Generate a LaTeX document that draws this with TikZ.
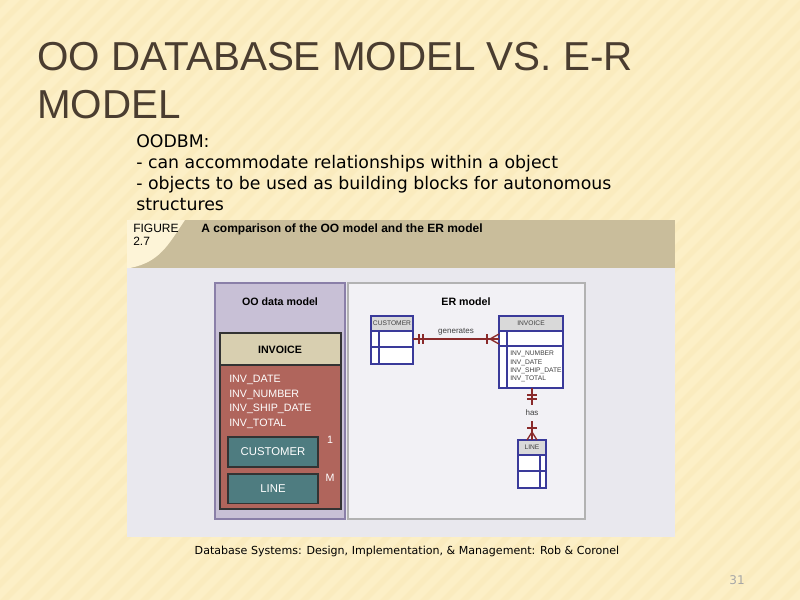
\documentclass[tikz,border=0pt]{standalone}
\usepackage{fontspec}
\setmainfont{DejaVu Sans}
\newfontfamily\tfont{Liberation Sans}
\newfontfamily\sfont{Liberation Sans}
\definecolor{bgy}{HTML}{FCEFC6}
\definecolor{bgs}{HTML}{F7E3AE}
\definecolor{ttl}{HTML}{4A3D30}
\definecolor{tan}{HTML}{C9BD9B}
\definecolor{fig}{HTML}{E9E8EE}
\definecolor{oopan}{HTML}{C8C0D6}
\definecolor{ooedge}{HTML}{8A7FA8}
\definecolor{invh}{HTML}{D8CFB0}
\definecolor{invb}{HTML}{B0655C}
\definecolor{teal}{HTML}{4E7C80}
\definecolor{erb}{HTML}{3A3A9A}
\definecolor{rel}{HTML}{8A2A2A}
\tikzset{
  ent/.style={draw=erb,line width=0.9pt,fill=white},
  enth/.style={draw=erb,line width=0.9pt,fill=gray!30},
  reltxt/.style={font=\sfont\fontsize{6}{6}\selectfont,text=black!75},
  attr/.style={font=\sfont\fontsize{5}{6.2}\selectfont,text=black!75,align=left,anchor=north west,inner sep=0},
  oobox/.style={draw=black!80,line width=1pt,fill=teal,text=white,font=\sfont\fontsize{8.5}{9}\selectfont}
}
\begin{document}
\begin{tikzpicture}[x=0.75pt,y=-0.75pt]
\useasboundingbox (0,0) rectangle (800,600);
\fill[bgy] (0,0) rectangle (800,600);
\foreach \i in {-600,-580,...,800} {\fill[bgs,opacity=0.3] (\i,600) -- (\i+8,600) -- (\i+608,0) -- (\i+600,0) -- cycle;}
\node[anchor=base west,inner sep=0,text=ttl,font=\tfont\fontsize{30.3}{30}\selectfont] (t1) at (37,70) {OO DATABASE MODEL VS. E-R};
\node[anchor=base west,inner sep=0,text=ttl,font=\tfont\fontsize{30.3}{30}\selectfont] (t2) at (37,118) {MODEL};
\node[anchor=north west,inner sep=0,align=left,font=\fontsize{13}{15.8}\selectfont] (body) at (136,134) {OODBM:\\- can accommodate relationships within a object\\- objects to be used as building blocks for autonomous\\structures};
% figure
\fill[fig] (127,220) rectangle (675,537);
\fill[tan] (127,220) rectangle (675,268);
\fill[bgy!70!white] (127,220) -- (185,220) .. controls (168,245) and (160,262) .. (130,268) -- (127,268) -- cycle;
\node[anchor=north west,inner sep=0,align=left,font=\sfont\fontsize{9}{10}\selectfont] (fl) at (133,224) {FIGURE\\2.7};
\node[anchor=north west,inner sep=0,font=\sfont\bfseries\fontsize{9}{10}\selectfont] (fc) at (201,224) {A comparison of the OO model and the ER model};
% OO panel
\draw[ooedge,fill=oopan,line width=1pt] (215,283) rectangle (345,519);
\node[font=\sfont\bfseries\fontsize{8}{8}\selectfont] (ooh) at (280,302) {OO data model};
\draw[black!80,fill=invb,line width=1pt] (220,333) rectangle (341,509);
\draw[black!80,fill=invh,line width=1pt] (220,333) rectangle (341,365);
\node[font=\sfont\bfseries\fontsize{8}{8}\selectfont] (inv) at (280,350) {INVOICE};
\node[anchor=north west,inner sep=0,align=left,text=white,font=\sfont\fontsize{8}{10.9}\selectfont] (ooattr) at (229,375) {INV\_DATE\\INV\_NUMBER\\INV\_SHIP\_DATE\\INV\_TOTAL};
\node[oobox,minimum width=67.5pt,minimum height=22.5pt] (oocust) at (273,452) {CUSTOMER};
\node[oobox,minimum width=67.5pt,minimum height=22pt] (ooline) at (273,488.5) {LINE};
\node[text=white,font=\sfont\fontsize{8}{8}\selectfont] (one) at (330,440) {1};
\node[text=white,font=\sfont\fontsize{8}{8}\selectfont] (m) at (330,478) {M};
% ER panel
\draw[black!30,fill=fig!60!white,line width=1pt] (348,283) rectangle (585,519);
\node[font=\sfont\bfseries\fontsize{8}{8}\selectfont] (erh) at (466,302) {ER model};
% customer
\draw[ent] (371,316) rectangle (413,364);
\draw[enth] (371,316) rectangle (413,331);
\draw[erb,line width=0.9pt] (371,347) -- (413,347) (379,331) -- (379,364);
\node[reltxt,font=\sfont\fontsize{5}{5}\selectfont] (cust) at (392,323.5) {CUSTOMER};
\coordinate (custr) at (413,339);
% invoice
\draw[ent] (499,316) rectangle (563,388);
\draw[enth] (499,316) rectangle (563,331);
\draw[erb,line width=0.9pt] (499,346) -- (563,346) (507,331) -- (507,388);
\node[reltxt,font=\sfont\fontsize{5}{5}\selectfont] (invh) at (531,323.5) {INVOICE};
\node[attr] (ia) at (510,351) {INV\_NUMBER\\INV\_DATE\\INV\_SHIP\_DATE\\INV\_TOTAL};
\coordinate (invl) at (499,339);
\coordinate (invb) at (532,388);
% line
\draw[ent] (518,440) rectangle (546,488);
\draw[enth] (518,440) rectangle (546,455);
\draw[erb,line width=0.9pt] (518,471) -- (546,471) (540,455) -- (540,488);
\node[reltxt,font=\sfont\fontsize{5}{5}\selectfont] (lineh) at (532,447.5) {LINE};
\coordinate (linet) at (532,440);
% relationships
\draw[rel,line width=1.2pt] (custr) -- (invl);
\draw[rel,line width=1pt] (419,334) -- (419,344) (423,334) -- (423,344) (487,334) -- (487,344);
\draw[rel,line width=1pt] (490,339) -- (499,334) (490,339) -- (499,344);
\node[reltxt] (gen) at (456,332) {generates};
\draw[rel,line width=1.2pt] (invb) -- (532,405) (532,421) -- (linet);
\draw[rel,line width=1pt] (527,395) -- (537,395) (527,399) -- (537,399) (527,428) -- (537,428);
\draw[rel,line width=1pt] (532,432) -- (527,440) (532,432) -- (537,440);
\node[reltxt] (has) at (532,413) {has};
% caption
\node[font=\fontsize{8.3}{9}\selectfont] (cap) at (407,551) {Database Systems: Design, Implementation, \& Management: Rob \& Coronel};
\node[text=black!35,font=\fontsize{9}{9}\selectfont] (pg) at (737,580) {31};
\end{tikzpicture}
\end{document}
